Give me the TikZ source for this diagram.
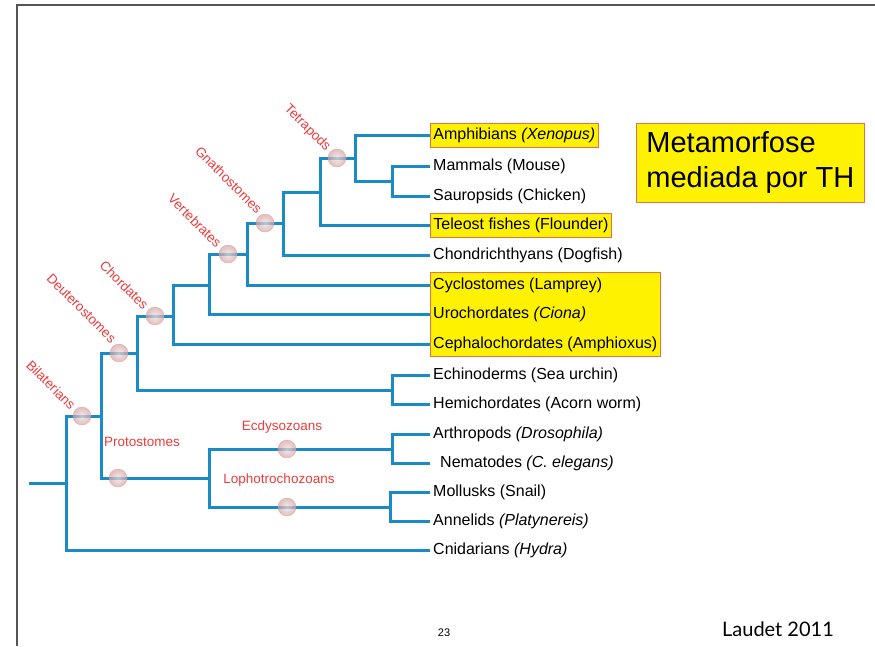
\documentclass[tikz,border=0pt]{standalone}
\usepackage{fontspec}
\setmainfont{Liberation Sans}
\newfontfamily\creditfont{Lato}
\usepackage{tikz}
\usetikzlibrary{positioning, fit, backgrounds, calc}
\definecolor{treeblue}{HTML}{1B8BC6}
\definecolor{cladered}{HTML}{EE3B3B}
\definecolor{boxborder}{HTML}{E8704A}
\definecolor{framegray}{HTML}{555555}
\definecolor{markpink}{HTML}{E0A8A8}
\tikzset{
	taxonnode/.style={
			anchor=west,
			inner xsep=3pt,
			inner ysep=0pt,
			minimum height=24pt,
			font=\fontsize{16}{19}\selectfont
		},
	markednode/.style={
			taxonnode,
			fill=yellow,
			draw=boxborder,
			line width=0.8pt
		},
	cladenode/.style={
			circle,
			minimum size=18pt,
			inner sep=0pt,
			draw=markpink!90!red,
			inner color=markpink!35!white,
			outer color=markpink!85!gray,
			opacity=0.7
		},
	cladelabel/.style={
			text=cladered,
			font=\fontsize{13.5}{16}\selectfont,
			inner sep=1pt
		},
	slantlabel/.style={
			cladelabel,
			rotate=-45,
			anchor=east,
			inner sep=3pt
		},
	branch/.style={
			treeblue,
			line width=3pt
		}
}

\begin{document}
\begin{tikzpicture}[x=1pt, y=-1pt]
\useasboundingbox (0,0) rectangle (875,646);
\draw[framegray, line width=1.5pt] (17,646) |- (875,5);

    % leaves
    \node[markednode] (amph) at (430,135) { Amphibians \textit{(Xenopus)} };
    \node[taxonnode] (mamm) at (430,166) { Mammals (Mouse) };
    \node[taxonnode] (saur) at (430,196) { Sauropsids (Chicken) };
    \node[markednode] (tele) at (430,225) { Teleost fishes (Flounder) };
    \node[taxonnode] (chon) at (430,255) { Chondrichthyans (Dogfish) };
    \node[taxonnode] (cycl) at (430,285) { Cyclostomes (Lamprey) };
    \node[taxonnode] (uroc) at (430,314) { Urochordates \textit{(Ciona)} };
    \node[taxonnode] (ceph) at (430,344) { Cephalochordates (Amphioxus) };
    \node[taxonnode] (echi) at (430,375) { Echinoderms (Sea urchin) };
    \node[taxonnode] (hemi) at (430,404) { Hemichordates (Acorn worm) };
    \node[taxonnode] (arth) at (430,434) { Arthropods \textit{(Drosophila)} };
    \node[taxonnode] (nema) at (430,463) { \hspace*{7pt}Nematodes \textit{(C. elegans)} };
    \node[taxonnode] (moll) at (430,492) { Mollusks (Snail) };
    \node[taxonnode] (anne) at (430,521) { Annelids \textit{(Platynereis)} };
    \node[taxonnode] (cnid) at (430,550) { Cnidarians \textit{(Hydra)} };

    \begin{scope}[on background layer]
        \node[fill=yellow, draw=boxborder, line width=0.8pt, inner sep=0pt, fit=(cycl)(uroc)(ceph)] (chordbox) {};
    \end{scope}

    % junctions
    \coordinate (root) at (29,483);
    \coordinate (metazoa) at (66,483);
    \coordinate (bilateria) at (101,416);
    \coordinate (deutero) at (137,353);
    \coordinate (chordata) at (173,316);
    \coordinate (olfact) at (209,285);
    \coordinate (vertebr) at (247,254);
    \coordinate (gnatho) at (283,223);
    \coordinate (osteich) at (320,192);
    \coordinate (tetrap) at (355,158);
    \coordinate (amniota) at (392,181);
    \coordinate (ambul) at (392,390);
    \coordinate (protost) at (209,478);
    \coordinate (ecdys) at (392,449);
    \coordinate (lophot) at (390,507);

    \draw[branch] (root) -- (metazoa);
    \draw[branch] (metazoa) |- (bilateria);
    \draw[branch] (metazoa) |- (cnid.west);
    \draw[branch] (bilateria) |- (deutero);
    \draw[branch] (bilateria) |- (protost);
    \draw[branch] (deutero) |- (chordata);
    \draw[branch] (deutero) |- (ambul);
    \draw[branch] (ambul) |- (echi.west);
    \draw[branch] (ambul) |- (hemi.west);
    \draw[branch] (chordata) |- (olfact);
    \draw[branch] (chordata) |- (ceph.west);
    \draw[branch] (olfact) |- (vertebr);
    \draw[branch] (olfact) |- (uroc.west);
    \draw[branch] (vertebr) |- (gnatho);
    \draw[branch] (vertebr) |- (cycl.west);
    \draw[branch] (gnatho) |- (osteich);
    \draw[branch] (gnatho) |- (chon.west);
    \draw[branch] (osteich) |- (tetrap);
    \draw[branch] (osteich) |- (tele.west);
    \draw[branch] (tetrap) |- (amph.west);
    \draw[branch] (tetrap) |- (amniota);
    \draw[branch] (amniota) |- (mamm.west);
    \draw[branch] (amniota) |- (saur.west);
    \draw[branch] (protost) |- (ecdys);
    \draw[branch] (protost) |- (lophot);
    \draw[branch] (ecdys) |- (arth.west);
    \draw[branch] (ecdys) |- (nema.west);
    \draw[branch] (lophot) |- (moll.west);
    \draw[branch] (lophot) |- (anne.west);

    % clade marks
    \node[cladenode] (ctet) at (337,158) {};
    \node[cladenode] (cgna) at (265,223) {};
    \node[cladenode] (cver) at (228,254) {};
    \node[cladenode] (ccho) at (155,316) {};
    \node[cladenode] (cdeu) at (119,353) {};
    \node[cladenode] (cbil) at (82,416) {};
    \node[cladenode] (cpro) at (118,478) {};
    \node[cladenode] (cecd) at (287,449) {};
    \node[cladenode] (clop) at (287,507) {};

    \node[slantlabel] at (ctet.north west) { Tetrapods };
    \node[slantlabel, yshift=5pt] at (cgna.north west) { Gnathostomes };
    \node[slantlabel] at (cver.north west) { Vertebrates };
    \node[slantlabel] at (ccho.north west) { Chordates };
    \node[slantlabel, yshift=5pt] at (cdeu.north west) { Deuterostomes };
    \node[slantlabel] at (cbil.north west) { Bilaterians };
    \node[cladelabel] at (142,442) { Protostomes };
    \node[cladelabel] at (282,427) { Ecdysozoans };
    \node[cladelabel] at (279,480) { Lophotrochozoans };

    \node[fill=yellow, draw=boxborder, line width=0.8pt, anchor=north west, minimum width=228pt, minimum height=79pt, align=left, inner sep=4pt, font=\fontsize{29}{35}\selectfont] (metabox) at (636,123) {Metamorfose\\mediada por TH};

    \node[font=\fontsize{11}{13}\selectfont] (pagenum) at (444,633) {23};
    \node[font=\creditfont\fontsize{20}{24}\selectfont] (credit) at (778,629) {Laudet 2011};

\end{tikzpicture}
\end{document}
